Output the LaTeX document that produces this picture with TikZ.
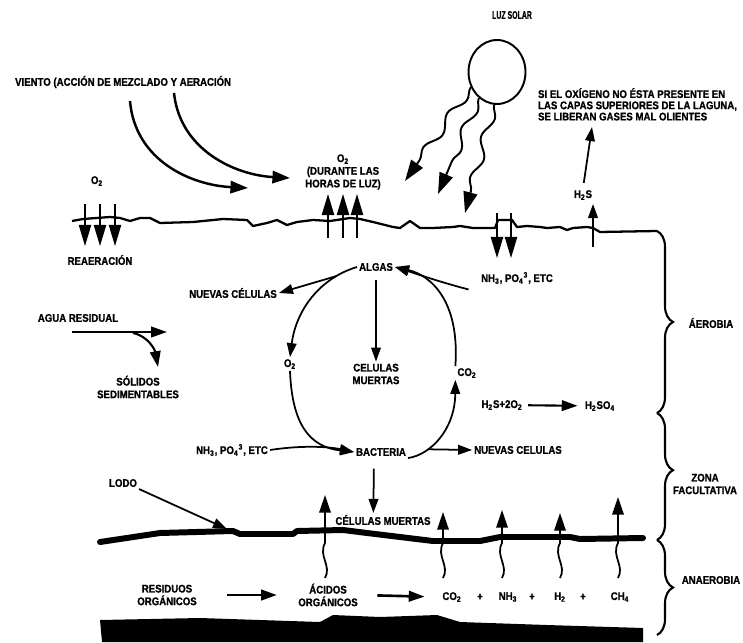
\documentclass[tikz,border=0pt]{standalone}
\usepackage{fontspec}
\newfontfamily\rotfont{Liberation Sans}[FakeStretch=0.87, BoldFeatures={FakeBold=1}]
\usetikzlibrary{arrows.meta,decorations.pathreplacing,decorations.pathmorphing,shapes.geometric}
\tikzset{
  rotulo/.style={font=\rotfont\bfseries\fontsize{6.3}{7.2}\selectfont, inner sep=1pt, align=center},
  flecha/.style={line width=1pt, -{Triangle[length=8pt,width=5.5pt]}},
  flechag/.style={line width=0.8pt, -{Triangle[length=12pt,width=7pt]}},
  flechab/.style={line width=1.5pt, -{Triangle[length=9pt,width=6pt]}},
  viento/.style={line width=1.4pt, -{Triangle[length=10pt,width=7pt]}},
  rayo/.style={line width=1.1pt, decorate, decoration={snake, amplitude=2.5pt, segment length=24pt, post length=10pt}, -{Triangle[length=12pt,width=8pt]}},
  gas/.style={line width=1pt, -{Triangle[length=10pt,width=6.5pt]}},
  superficie/.style={line width=1.3pt, line join=round},
  llave/.style={line width=1.2pt, decorate, decoration={brace, amplitude=0.32cm}},
  capalodo/.style={line width=3.4pt, line join=round, line cap=round},
}
\begin{document}
\begin{tikzpicture}[x=0.02cm, y=-0.02cm]
\useasboundingbox (0,0) rectangle (743,642);

% viento
\node[rotulo, anchor=west] (viento) at (13,82) {VIENTO (ACCIÓN DE MEZCLADO Y AERACIÓN};
\coordinate (v1) at (130,101);
\coordinate (v1f) at (248,188);
\coordinate (v2) at (174,93);
\coordinate (v2f) at (290,178);
\draw[viento] (v1) .. controls (135,160) and (190,185) .. (v1f);
\draw[viento] (v2) .. controls (180,150) and (235,175) .. (v2f);

% superficie de la laguna y zonas
\draw[superficie] (72,221) -- (83,219) -- (110,217) -- (120,218) -- (130,221) -- (140,218) -- (150,218) -- (160,223) -- (193,222) -- (223,219) -- (247,220) -- (253,226) -- (267,223) -- (277,220) -- (287,225) -- (297,222) -- (313,220) -- (330,221) -- (350,218) -- (360,219) -- (373,222) -- (393,227) -- (400,228) -- (410,221) -- (420,228) -- (433,228) -- (453,227) -- (460,226) -- (473,228) -- (495,228) -- (498,220) -- (512,220) -- (517,227) -- (527,226) -- (540,227) -- (547,228) -- (560,227) -- (567,230) -- (573,228) -- (587,227) -- (593,228) -- (600,232) -- (657,231);
\draw[llave] (657,231) -- (657,413);
\draw[llave, decoration={aspect=0.45}] (657,413) -- (657,540);
\draw[llave] (657,540) -- (657,635);
\node[rotulo] (aerobia) at (711,323) {ÁEROBIA};
\node[rotulo] (zona) at (705,484) {ZONA\\FACULTATIVA};
\node[rotulo] (anaerobia) at (711,580) {ANAEROBIA};

% reaeracion
\node[rotulo] (o2rea) at (97,181) {O\textsubscript{2}};
\foreach \x in {85,100,115}
  \draw[flechag] (\x,204) -- (\x,246);
\node[rotulo] (reaer) at (100,260) {REAERACIÓN};

% oxigeno de las algas
\node[rotulo] (o2luz) at (343,172) {O\textsubscript{2}\\(DURANTE LAS\\HORAS DE LUZ)};
\foreach \x in {328,343,357}
  \draw[flechag] (\x,238) -- (\x,194);

% sol
\node[ellipse, draw, line width=1.1pt, minimum width=1.14cm, minimum height=1.28cm] (sol) at (497,72) {};
\node[rotulo] (luz) at (512,15) {\scalebox{0.72}[1]{LUZ SOLAR}};
\coordinate (r1) at (405,181);
\coordinate (r2) at (438,194);
\coordinate (r3) at (465,213);
\draw[rayo] (sol.210) -- (r1);
\draw[rayo] (sol.235) -- (r2);
\draw[rayo] (sol.265) -- (r3);

% gases mal olientes
\node[rotulo, font=\rotfont\bfseries\fontsize{6.3}{6.4}\selectfont, anchor=north west, align=left] (aviso) at (536,86) {SI EL OXÍGENO NO ÉSTA PRESENTE EN\\LAS CAPAS SUPERIORES DE LA LAGUNA,\\SE LIBERAN GASES MAL OLIENTES};
\node[rotulo] (h2s) at (583,195) {H\textsubscript{2}S};
\coordinate (gasf) at (592,127);
\draw[flecha, shorten <=3pt] (h2s.north) -- (gasf);
\coordinate (h2sb) at (593,247);
\coordinate (h2sf) at (593,204);
\draw[flecha] (h2sb) -- (h2sf);

% nutrientes que entran
\foreach \x in {497,511}
  \draw[flechag] (\x,213) -- (\x,258);

% ciclo algas - bacterias
\node[rotulo] (algas) at (376,267) {ALGAS};
\node[rotulo] (celm) at (376,374) {CELULAS\\MUERTAS};
\node[rotulo] (o2) at (290,364) {O\textsubscript{2}};
\node[rotulo] (co2) at (467,373) {CO\textsubscript{2}};
\node[rotulo] (bacteria) at (381,452) {BACTERIA};
\node[rotulo] (nuevas1) at (233,293) {NUEVAS CÉLULAS};
\node[rotulo] (nuevas2) at (518,450) {NUEVAS CELULAS};
\node[rotulo] (nut1) at (517,278) {NH\textsubscript{3}, PO\textsubscript{4}\textsuperscript{3}, ETC};
\node[rotulo] (nut2) at (232,450) {NH\textsubscript{3}, PO\textsubscript{4}\textsuperscript{3}, ETC};

\draw[flecha] (algas.west) .. controls (320,278) and (296,310) .. node[pos=0.2, coordinate] (ram1) {} (o2.north);
\draw[flecha] (ram1) -- (nuevas1.east);
\draw[flecha, line width=0.8pt, shorten <=4pt] (algas.south) -- (celm.north);
\draw[flecha] (o2.south) .. controls (292,425) and (310,447) .. (bacteria.west);
\draw[flecha] (nut2.east) .. controls (310,444) and (335,448) .. (bacteria.west);
\draw[flecha] (bacteria.south east) .. controls (430,455) and (455,430) .. node[pos=0.3, coordinate] (ram2) {} (co2.south west);
\draw[flecha] (ram2) -- (nuevas2.west);
\draw[flecha] (co2.north west) .. controls (460,300) and (430,275) .. (algas.east);
\draw[flecha] ([xshift=-6pt,yshift=-2pt]nut1.south west) .. controls (440,282) and (420,275) .. (algas.east);

% oxidacion del sulfuro
\node[rotulo] (h2so2) at (502,405) {H\textsubscript{2}S+2O\textsubscript{2}};
\node[rotulo] (h2so4) at (600,406) {H\textsubscript{2}SO\textsubscript{4}};
\draw[flechab, line width=1.2pt, shorten <=2pt, shorten >=3pt] (h2so2) -- (h2so4);

% agua residual
\node[rotulo] (agua) at (78,318) {AGUA RESIDUAL};
\node[rotulo] (solidos) at (138,387) {SÓLIDOS\\SEDIMENTABLES};
\coordinate (ent) at (72,332);
\coordinate (sal) at (167,332);
\coordinate (sed) at (158,367);
\draw[flechab, line width=1.2pt] (ent) -- (sal);
\draw[flechab, line width=1.2pt] (133,333) .. controls (148,336) and (155,350) .. (sed);

% lodo
\node[rotulo] (lodo) at (123,483) {LODO};
\coordinate (lodof) at (227,529);
\draw[flecha] (lodo.south east) -- (lodof);
\draw[capalodo] (100,542) -- (160,533) -- (233,531) -- (240,534) -- (293,534) -- (297,531) -- (343,530) -- (367,533) -- (433,541) -- (480,541) -- (500,537) -- (570,537) -- (580,539) -- (643,538);
\node[rotulo] (celm2) at (383,520) {CÉLULAS MUERTAS};
\draw[flecha, shorten <=6pt] ([xshift=-4pt]bacteria.south) -- ([xshift=-5.5pt]celm2.north);
\foreach \x/\y in {325/495,443/512,502/510,560/513,618/497}
  \draw[gas] (\x,578) .. controls (\x+7,566) and (\x-7,556) .. (\x,543) -- (\x,\y);

% zona anaerobia
\node[rotulo] (resid) at (167,595) {RESIDUOS\\ORGÁNICOS};
\node[rotulo] (acidos) at (328,595) {ÁCIDOS\\ORGÁNICOS};
\node[rotulo] (co2b) at (452,597) {CO\textsubscript{2}};
\node[rotulo] (mas1) at (480,597) {+};
\node[rotulo] (nh3) at (508,597) {NH\textsubscript{3}};
\node[rotulo] (mas2) at (532,597) {+};
\node[rotulo] (h2) at (560,597) {H\textsubscript{2}};
\node[rotulo] (mas3) at (583,597) {+};
\node[rotulo] (ch4) at (620,597) {CH\textsubscript{4}};
\draw[flechab, shorten <=16pt, shorten >=11pt] (resid.east) -- (acidos.west);
\draw[flechab, shorten <=10pt, shorten >=9pt] (acidos.east) -- (co2b.west);
\fill (100,620) -- (200,618) -- (320,622) -- (333,615) -- (380,617) -- (437,615) -- (460,622) -- (547,625) -- (643,628) -- (643,642) -- (102,642) -- cycle;
\end{tikzpicture}
\end{document}
